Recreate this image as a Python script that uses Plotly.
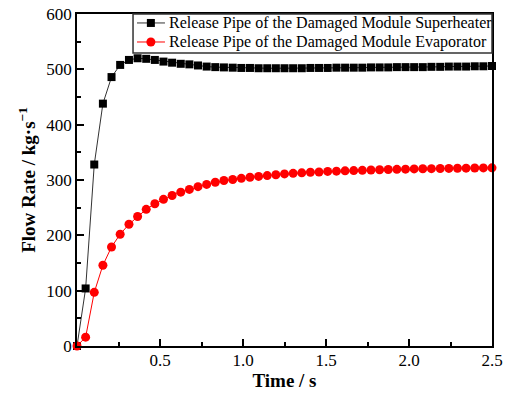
import plotly.graph_objects as go

# Sample times (s)
time_s = [0.000, 0.052, 0.104, 0.156, 0.208, 0.260, 0.313, 0.365, 0.417, 0.469,
          0.521, 0.573, 0.625, 0.677, 0.729, 0.781, 0.833, 0.885, 0.938, 0.990,
          1.042, 1.094, 1.146, 1.198, 1.250, 1.302, 1.354, 1.406, 1.458, 1.510,
          1.563, 1.615, 1.667, 1.719, 1.771, 1.823, 1.875, 1.927, 1.979, 2.031,
          2.083, 2.135, 2.188, 2.240, 2.292, 2.344, 2.396, 2.448, 2.500]

# Flow rate through the superheater release pipe (kg/s)
superheater = [0, 104, 328, 438, 486, 508, 517, 520, 519, 517,
               514, 512, 510, 509, 507, 505, 504, 503.5, 503, 502.5,
               502.5, 502, 502, 502, 502, 502, 502, 502.5, 502.5, 502.5,
               503, 503, 503, 503, 503.5, 503.5, 503.5, 504, 504, 504,
               504, 504.5, 504.5, 505, 505, 505, 505.5, 505.5, 506]

# Flow rate through the evaporator release pipe (kg/s)
evaporator = [0, 16, 97, 146, 179, 202, 220, 234, 247, 257,
              265, 272, 278, 283, 288, 292, 296, 299, 301, 303,
              305, 306.5, 308, 309.5, 311, 312, 313, 314, 314.5, 315.5,
              316, 316.5, 317, 317.5, 318, 318.5, 319, 319.3, 319.6, 320,
              320.3, 320.5, 320.8, 321, 321.2, 321.4, 321.6, 321.8, 322]

x_tick_vals = [0.5, 1.0, 1.5, 2.0, 2.5]
x_tick_text = ["0.5", "1.0", "1.5", "2.0", "2.5"]
y_tick_vals = [0, 100, 200, 300, 400, 500, 600]

series_names = ["Release Pipe of the Damaged Module Superheater",
                "Release Pipe of the Damaged Module Evaporator"]
series_colors = ["black", "red"]
line_colors = ["#333333", "red"]
marker_symbols = ["square", "circle"]

serif = "Liberation Serif, Times New Roman, serif"

fig = go.Figure()
for name, ys, lc, mc, sym, size in zip(series_names, [superheater, evaporator],
                                       line_colors, series_colors, marker_symbols, [8, 9]):
    fig.add_trace(go.Scatter(
        x=time_s, y=ys, mode="lines+markers", name=name,
        line=dict(color=lc, width=1),
        marker=dict(symbol=sym, size=size, color=mc),
        cliponaxis=False, showlegend=False,
    ))

axis_common = dict(
    showline=True, linecolor="black", linewidth=1.5, mirror=True,
    showgrid=False, zeroline=False, automargin=False,
    ticks="inside", ticklen=7, tickwidth=1.5, tickcolor="black",
    tickfont=dict(family=serif, size=17, color="black"),
)

fig.update_xaxes(
    range=[0, 2.5], tickvals=x_tick_vals, ticktext=x_tick_text,
    ticklabelstandoff=-2,
    minor=dict(dtick=0.25, ticks="inside", ticklen=4, tickwidth=1.5, tickcolor="black"),
    title=dict(text="<b>Time / s</b>", font=dict(family=serif, size=19, color="black"), standoff=2),
    **axis_common,
)
fig.update_yaxes(
    range=[0, 600], tickvals=y_tick_vals,
    minor=dict(dtick=50, ticks="inside", ticklen=4, tickwidth=1.5, tickcolor="black"),
    title=dict(text="<b>Flow Rate / kg·s<sup>−1</sup></b>", font=dict(family=serif, size=19, color="black"), standoff=6),
    **axis_common,
)

# Compact legend box in the top-right corner of the plot area (paper coordinates)
box_left, box_bottom = 0.135, 0.8825
row_y = [0.973, 0.9157]
sample_x0, sample_x1, sample_mid, text_x = 0.1446, 0.2120, 0.178, 0.2169

shapes = [dict(type="rect", xref="paper", yref="paper", x0=box_left, x1=1.0,
               y0=box_bottom, y1=1.0, line=dict(color="#333333", width=1.5),
               fillcolor="white", layer="above")]
annotations = []
for i, name in enumerate(series_names):
    ry = row_y[i]
    shapes.append(dict(type="line", xref="paper", yref="paper",
                       x0=sample_x0, x1=sample_x1, y0=ry, y1=ry,
                       line=dict(color=line_colors[i], width=1), layer="above"))
    half = 4 if marker_symbols[i] == "square" else 4.5
    shapes.append(dict(type="rect" if marker_symbols[i] == "square" else "circle",
                       xref="paper", yref="paper",
                       xsizemode="pixel", ysizemode="pixel",
                       xanchor=sample_mid, yanchor=ry,
                       x0=-half, x1=half, y0=-half, y1=half,
                       fillcolor=series_colors[i], line=dict(width=0), layer="above"))
    annotations.append(dict(xref="paper", yref="paper", x=text_x, y=ry,
                            xanchor="left", yanchor="middle", showarrow=False,
                            text=name, font=dict(family=serif, size=16, color="black")))

fig.update_layout(
    width=506, height=393,
    margin=dict(l=77, r=14, t=14, b=47),
    plot_bgcolor="white", paper_bgcolor="white",
    font=dict(family=serif, color="black"),
    shapes=shapes, annotations=annotations,
)

fig.write_html("out.html")
